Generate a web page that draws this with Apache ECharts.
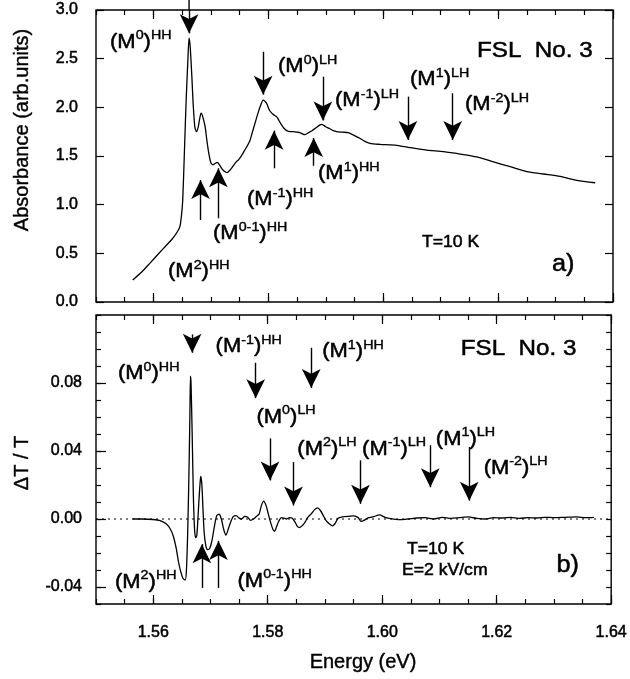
<!DOCTYPE html>
<html>
<head>
<meta charset="utf-8">
<script src="https://cdn.jsdelivr.net/npm/echarts@6/dist/echarts.min.js"></script>
<style>
  html, body { margin: 0; padding: 0; background: #fff; }
  #chart { width: 630px; height: 679px; }
</style>
</head>
<body>
<div id="chart"></div>
<script>
// ---- (a) absorbance spectrum ----
const energyA = [
  1.5564, 1.5580, 1.5594, 1.5608, 1.5623, 1.5633, 1.5640, 1.5646, 1.5649, 1.5651,
  1.5654, 1.5657, 1.5660, 1.5662, 1.5664, 1.5667, 1.5669, 1.5672, 1.5675, 1.5678,
  1.5681, 1.5683, 1.5686, 1.5690, 1.5693, 1.5696, 1.5700, 1.5704, 1.5708, 1.5711,
  1.5715, 1.5719, 1.5724, 1.5728, 1.5734, 1.5739, 1.5744, 1.5748, 1.5752, 1.5756,
  1.5762, 1.5768, 1.5773, 1.5777, 1.5782, 1.5786, 1.5791, 1.5797, 1.5802, 1.5806,
  1.5810, 1.5815, 1.5819, 1.5823, 1.5828, 1.5832, 1.5838, 1.5844, 1.5850, 1.5855,
  1.5860, 1.5864, 1.5870, 1.5876, 1.5883, 1.5890, 1.5893, 1.5900, 1.5907, 1.5913,
  1.5919, 1.5929, 1.5939, 1.5950, 1.5960, 1.5968, 1.5977, 1.5994, 1.6010, 1.6024,
  1.6047, 1.6076, 1.6105, 1.6134, 1.6163, 1.6192, 1.6221, 1.6250, 1.6279, 1.6308,
  1.6337, 1.6369
];
const absorbance = [
  0.226, 0.31, 0.40, 0.49, 0.586, 0.65, 0.706, 0.774, 0.90, 1.05,
  1.56, 2.08, 2.49, 2.71, 2.62, 2.30, 2.05, 1.80, 1.75, 1.80,
  1.90, 1.94, 1.90, 1.80, 1.66, 1.54, 1.43, 1.41, 1.425, 1.435,
  1.41, 1.37, 1.34, 1.33, 1.36, 1.40, 1.44, 1.46, 1.49, 1.53,
  1.59, 1.66, 1.76, 1.84, 1.94, 2.01, 2.075, 2.04, 1.97, 1.94,
  1.92, 1.90, 1.86, 1.82, 1.78, 1.76, 1.75, 1.75, 1.745, 1.74,
  1.725, 1.72, 1.74, 1.76, 1.79, 1.82, 1.825, 1.80, 1.78, 1.76,
  1.75, 1.745, 1.74, 1.71, 1.68, 1.65, 1.63, 1.62, 1.615, 1.61,
  1.585, 1.56, 1.545, 1.52, 1.49, 1.44, 1.39, 1.34, 1.315, 1.29,
  1.25, 1.225
];

// ---- (b) electro-transmission spectrum ----
const energyB = [
  1.5564, 1.5580, 1.5600, 1.5612, 1.5623, 1.5630, 1.5635, 1.5640, 1.5644, 1.5648,
  1.5652, 1.5656, 1.5658, 1.5660, 1.5662, 1.5664, 1.5665, 1.5666, 1.5668, 1.5670,
  1.5672, 1.5674, 1.5676, 1.5678, 1.5680, 1.5682, 1.5683, 1.5685, 1.5687, 1.5689,
  1.5692, 1.5695, 1.5699, 1.5703, 1.5707, 1.5711, 1.5715, 1.5719, 1.5723, 1.5727,
  1.5731, 1.5735, 1.5740, 1.5745, 1.5750, 1.5754, 1.5760, 1.5765, 1.5770, 1.5775,
  1.5780, 1.5785, 1.5789, 1.5793, 1.5797, 1.5801, 1.5805, 1.5809, 1.5812, 1.5815,
  1.5819, 1.5824, 1.5828, 1.5833, 1.5838, 1.5843, 1.5848, 1.5852, 1.5856, 1.5860,
  1.5865, 1.5870, 1.5876, 1.5882, 1.5887, 1.5892, 1.5897, 1.5902, 1.5908, 1.5913,
  1.5918, 1.5923, 1.5930, 1.5940, 1.5950, 1.5958, 1.5963, 1.5968, 1.5975, 1.5985,
  1.5995, 1.6005, 1.6015, 1.6030, 1.6045, 1.6060, 1.6075, 1.6090, 1.6105, 1.6120,
  1.6135, 1.6150, 1.6165, 1.6180, 1.6195, 1.6210, 1.6225, 1.6240, 1.6255, 1.6270,
  1.6285, 1.6300, 1.6320, 1.6340, 1.6355, 1.6370
];
const deltaT = [
  0, 0, -0.0003, -0.001, -0.003, -0.006, -0.010, -0.017, -0.025, -0.031,
  -0.035, -0.036, -0.030, -0.010, 0.020, 0.060, 0.084, 0.080, 0.050, 0.015,
  -0.005, -0.011, -0.010, 0.000, 0.012, 0.022, 0.025, 0.020, 0.005, -0.008,
  -0.016, -0.018, -0.017, -0.012, -0.004, 0.002, 0.0028, 0.000, -0.006, -0.0095,
  -0.006, -0.002, 0.0015, 0.002, 0.0005, 0.000, 0.0015, 0.001, -0.0008, 0.000,
  0.0015, 0.003, 0.008, 0.0105, 0.008, 0.003, -0.002, -0.006, -0.0072, -0.005,
  -0.0015, 0.0008, 0.0005, 0.0000, 0.0008, 0.0004, -0.002, -0.0045, -0.005, -0.004,
  -0.002, 0.001, 0.003, 0.0055, 0.0065, 0.005, 0.002, -0.001, -0.003, -0.004,
  -0.0025, 0.0005, 0.0012, 0.0016, 0.0018, 0.0008, -0.0014, -0.0008, 0.0006, 0.0014,
  0.0024, 0.001, 0.0002, -0.0004, 0.0000, 0.0006, 0.0008, 0.0000, 0.0010, 0.0004,
  0.0008, 0.0012, 0.0004, 0.0000, 0.0008, 0.0006, 0.0010, 0.0004, 0.0008, 0.0006,
  0.0010, 0.0008, 0.0010, 0.0012, 0.0008, 0.0010
];

// axis ranges and tick values
const energyRange = [1.55, 1.64];
const energyMajor = [1.56, 1.58, 1.60, 1.62, 1.64];
const absRange = [0, 3];
const dtRange = [-0.05, 0.12];
const dtMajor = [-0.04, 0.00, 0.04, 0.08];

// transition markers: energy, arrow tail, arrow tip
const arrowsA = [
  { e: 1.5662, from: 3.0, to: 2.76 },    // (M0)HH, tail runs past the frame
  { e: 1.5791, from: 2.57, to: 2.13 },   // (M0)LH
  { e: 1.5895, from: 2.315, to: 1.865 }, // (M-1)LH
  { e: 1.6043, from: 2.11, to: 1.665 },  // (M1)LH
  { e: 1.6121, from: 2.145, to: 1.665 }, // (M-2)LH
  { e: 1.5682, from: 0.842, to: 1.253 }, // (M2)HH
  { e: 1.5713, from: 0.86, to: 1.374 },  // (M0-1)HH
  { e: 1.5810, from: 1.374, to: 1.76 },  // (M-1)HH
  { e: 1.5879, from: 1.40, to: 1.685 }   // (M1)HH
];
const arrowsB = [
  { e: 1.5668, from: 0.1086, to: 0.0978 }, // (M0)HH
  { e: 1.5779, from: 0.0919, to: 0.0711 }, // (M-1)HH
  { e: 1.5876, from: 0.1007, to: 0.0770 }, // (M1)HH
  { e: 1.5804, from: 0.0474, to: 0.0227 }, // (M0)LH
  { e: 1.5845, from: 0.0335, to: 0.0079 }, // (M2)LH
  { e: 1.5962, from: 0.0345, to: 0.0089 }, // (M-1)LH
  { e: 1.6084, from: 0.0434, to: 0.0187 }, // (M1)LH
  { e: 1.6152, from: 0.0424, to: 0.0108 }, // (M-2)LH
  { e: 1.5685, from: -0.0405, to: -0.0148 }, // (M2)HH
  { e: 1.5714, from: -0.0405, to: -0.0129 }  // (M0-1)HH
];

// transition labels: position (left edge, vertical centre), index, hole band
const labelsA = [
  { e: 1.55244, y: 2.67, n: '0', band: 'HH' },
  { e: 1.58169, y: 2.415, n: '0', band: 'LH' },
  { e: 1.59161, y: 2.066, n: '-1', band: 'LH' },
  { e: 1.60467, y: 2.281, n: '1', band: 'LH' },
  { e: 1.61424, y: 2.025, n: '-2', band: 'LH' },
  { e: 1.58865, y: 1.316, n: '1', band: 'HH' },
  { e: 1.57629, y: 1.049, n: '-1', band: 'HH' },
  { e: 1.57037, y: 0.699, n: '0-1', band: 'HH' },
  { e: 1.56253, y: 0.309, n: '2', band: 'HH' }
];
const labelsB = [
  { e: 1.55383, y: 0.0855, n: '0', band: 'HH' },
  { e: 1.57089, y: 0.1014, n: '-1', band: 'HH' },
  { e: 1.58952, y: 0.0985, n: '1', band: 'HH' },
  { e: 1.57803, y: 0.0600, n: '0', band: 'LH' },
  { e: 1.58517, y: 0.0411, n: '2', band: 'LH' },
  { e: 1.59648, y: 0.0411, n: '-1', band: 'LH' },
  { e: 1.60937, y: 0.0470, n: '1', band: 'LH' },
  { e: 1.61772, y: 0.0298, n: '-2', band: 'LH' },
  { e: 1.55331, y: -0.0372, n: '2', band: 'HH' },
  { e: 1.57472, y: -0.0366, n: '0-1', band: 'HH' }
];
const notesA = [
  { e: 1.61633, y: 2.579, text: 'FSL  No. 3', size: 22 },
  { e: 1.60675, y: 0.606, text: 'T=10 K', size: 16 },
  { e: 1.62939, y: 0.380, text: 'a)', size: 23 }
];
const notesB = [
  { e: 1.61372, y: 0.1003, text: 'FSL  No. 3', size: 22 },
  { e: 1.60432, y: -0.0182, text: 'T=10 K', size: 16 },
  { e: 1.60345, y: -0.0306, text: 'E=2 kV/cm', size: 16 },
  { e: 1.63043, y: -0.0277, text: 'b)', size: 23 }
];

const FONT = 'Liberation Sans, Arial, sans-serif';
const INK = '#000';
const HEAVY = { textBorderColor: INK, textBorderWidth: 0.5 };

const zip = (xs, ys) => xs.map((x, i) => [x, ys[i]]);

function tickAxis(extra) {
  return Object.assign({
    type: 'value',
    axisLine: { show: false, onZero: false },
    splitLine: { show: false },
    axisLabel: { show: false },
    axisTick: { show: true, inside: true, length: 5, lineStyle: { color: INK, width: 1.2 } }
  }, extra);
}

function labelStyle(extra) {
  return Object.assign({ show: true, fontSize: 16, color: INK, fontFamily: FONT }, HEAVY, extra);
}

function energyAxes(g, withLabels) {
  const common = { gridIndex: g, min: energyRange[0], max: energyRange[1] };
  const major = {
    axisTick: { show: true, inside: true, length: 9, customValues: energyMajor, lineStyle: { color: INK, width: 1.2 } }
  };
  const bottomMajor = Object.assign({}, common, major, { position: 'bottom' });
  if (withLabels) {
    bottomMajor.axisLabel = labelStyle({ customValues: energyMajor, margin: 21, formatter: v => v.toFixed(2) });
  }
  return [
    tickAxis(Object.assign({}, common, { position: 'bottom', interval: 0.005 })),
    tickAxis(bottomMajor),
    tickAxis(Object.assign({}, common, { position: 'top', interval: 0.005 })),
    tickAxis(Object.assign({}, common, major, { position: 'top' }))
  ];
}

const xAxis = energyAxes(0, false).concat(energyAxes(1, true));

const yAxis = [
  // (a) absorbance
  tickAxis({
    gridIndex: 0, position: 'left', min: absRange[0], max: absRange[1], interval: 0.5,
    axisTick: { show: true, inside: true, length: 8, lineStyle: { color: INK, width: 1.2 } },
    axisLabel: labelStyle({ margin: 18, formatter: v => v.toFixed(1) })
  }),
  tickAxis({
    gridIndex: 0, position: 'right', min: absRange[0], max: absRange[1], interval: 0.5,
    axisTick: { show: true, inside: true, length: 8, lineStyle: { color: INK, width: 1.2 } }
  }),
  // (b) delta T / T
  tickAxis({ gridIndex: 1, position: 'left', min: dtRange[0], max: dtRange[1], interval: 0.01 }),
  tickAxis({
    gridIndex: 1, position: 'left', min: dtRange[0], max: dtRange[1],
    axisTick: { show: true, inside: true, length: 10, customValues: dtMajor, lineStyle: { color: INK, width: 1.2 } },
    axisLabel: labelStyle({ margin: 14, customValues: dtMajor, formatter: v => v.toFixed(2) })
  }),
  tickAxis({ gridIndex: 1, position: 'right', min: dtRange[0], max: dtRange[1], interval: 0.01 })
];

function arrowLines(list) {
  return list.map(a => [{ coord: [a.e, a.from] }, { coord: [a.e, a.to] }]);
}

const arrowStyle = {
  silent: true,
  symbol: ['none', 'arrow'],
  symbolSize: [14, 19],
  label: { show: false },
  lineStyle: { color: INK, width: 1.4, type: 'solid', opacity: 1 },
  emphasis: { disabled: true }
};

const chart = echarts.init(document.getElementById('chart'), null, { renderer: 'canvas' });

chart.setOption({
  animation: false,
  backgroundColor: '#fff',
  grid: [
    { left: 96, top: 10, width: 517, height: 292, show: true, borderColor: INK, borderWidth: 1.4, backgroundColor: 'transparent' },
    { left: 96, top: 315, width: 517, height: 289, show: true, borderColor: INK, borderWidth: 1.4, backgroundColor: 'transparent' }
  ],
  xAxis: xAxis,
  yAxis: yAxis,
  series: [
    {
      name: 'Absorbance', type: 'line', xAxisIndex: 0, yAxisIndex: 0,
      data: zip(energyA, absorbance), showSymbol: false, smooth: 0.25, clip: false,
      lineStyle: { color: INK, width: 1.3 },
      markLine: Object.assign({ data: arrowLines(arrowsA) }, arrowStyle)
    },
    {
      name: 'zero', type: 'line', xAxisIndex: 4, yAxisIndex: 2,
      data: [[energyRange[0], 0], [energyRange[1], 0]], showSymbol: false,
      lineStyle: { color: INK, width: 1.1, type: [2, 4] }
    },
    {
      name: 'dT/T', type: 'line', xAxisIndex: 4, yAxisIndex: 2,
      data: zip(energyB, deltaT), showSymbol: false, smooth: 0.25, clip: false,
      lineStyle: { color: INK, width: 1.3 },
      markLine: Object.assign({ data: arrowLines(arrowsB) }, arrowStyle)
    }
  ]
});

// text annotations placed at data positions
const rich = {
  m: { fontSize: 20, fontFamily: FONT, lineHeight: 26, fill: INK, stroke: INK, lineWidth: 0.5 },
  s: { fontSize: 13, fontFamily: FONT, lineHeight: 12, verticalAlign: 'top', fill: INK, stroke: INK, lineWidth: 0.4 }
};
function transitionText(l) {
  return '{m|(M}{s|' + l.n + '}{m|)}{s|' + l.band + '}';
}
const graphics = [];
function place(list, seriesIndex, makeText, styleFor) {
  list.forEach(l => {
    const p = chart.convertToPixel({ seriesIndex: seriesIndex }, [l.e, l.y]);
    graphics.push({
      type: 'text', x: p[0], y: p[1], scaleX: 1.1, silent: true,
      style: Object.assign({ text: makeText(l), align: 'left', verticalAlign: 'middle', fill: INK }, styleFor(l))
    });
  });
}
place(labelsA, 0, transitionText, () => ({ rich: rich }));
place(labelsB, 2, transitionText, () => ({ rich: rich }));
place(notesA, 0, l => l.text, l => ({ fontSize: l.size, fontFamily: FONT, stroke: INK, lineWidth: 0.5 }));
place(notesB, 2, l => l.text, l => ({ fontSize: l.size, fontFamily: FONT, stroke: INK, lineWidth: 0.5 }));

// tail of the (M0)HH arrow in (a), continuing above the frame
const topTail = chart.convertToPixel({ seriesIndex: 0 }, [arrowsA[0].e, arrowsA[0].from]);
graphics.push({
  type: 'line', silent: true,
  shape: { x1: topTail[0], y1: 0, x2: topTail[0], y2: topTail[1] },
  style: { stroke: INK, lineWidth: 1.4 }
});

// axis titles
const titleStyle = { fontSize: 20, fontFamily: FONT, fill: INK, align: 'center', verticalAlign: 'middle', stroke: INK, lineWidth: 0.4 };
graphics.push(
  { type: 'text', x: 22, y: 130, rotation: Math.PI / 2, silent: true,
    style: Object.assign({ text: 'Absorbance (arb.units)' }, titleStyle) },
  { type: 'text', x: 22, y: 463, rotation: Math.PI / 2, silent: true,
    style: Object.assign({ text: 'ΔT / T' }, titleStyle) },
  { type: 'text', x: 363, y: 662, silent: true,
    style: Object.assign({ text: 'Energy (eV)' }, titleStyle) }
);
chart.setOption({ graphic: graphics });
</script>
</body>
</html>
